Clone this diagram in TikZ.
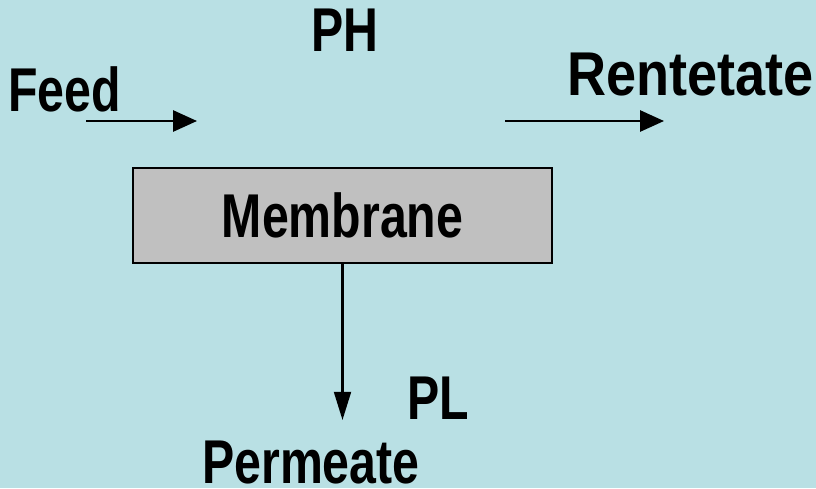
\documentclass[tikz,border=0pt]{standalone}
\usepackage{fontspec}
\setmainfont[FakeStretch=0.78]{Liberation Sans}
\usepackage{xcolor}
\definecolor{mbback}{RGB}{185,224,228}
\definecolor{mbgray}{RGB}{192,192,192}
\usetikzlibrary{arrows.meta, positioning}

\begin{document}
\begin{tikzpicture}[x=0.025cm, y=-0.025cm,
    lbl/.style={font=\fontsize{44}{50}\selectfont\bfseries, inner sep=0pt, anchor=base west},
    flow/.style={line width=1.6pt, -{Triangle[length=17pt, width=15pt]}}]
  % Background
  \fill[mbback] (0,0) rectangle (816,488);
  \useasboundingbox (0,0) rectangle (816,488);

  % Membrane box
  \node[draw=black, fill=mbgray, line width=1.4pt, minimum width=10.475cm,
        minimum height=2.375cm, inner sep=0pt,
        font=\fontsize{44}{50}\selectfont\bfseries] (mem) at (342.5,215.5) {Membrane};

  % Labels
  \node[lbl] (feed) at (8,111) {Feed};
  \node[lbl] (ph) at (311,51) {PH};
  \node[lbl] (ret) at (567,95) {\scalebox{1.12}[1]{Rentetate}};
  \node[lbl] (pl) at (407,419) {PL};
  \node[lbl] (perm) at (202,483) {Permeate};

  % Feed and retentate arrows
  \coordinate (feedin) at (86,121);
  \coordinate (feedout) at (197,121);
  \coordinate (retin) at (505,121);
  \coordinate (retout) at (664,121);
  \draw[flow] (feedin) -- (feedout);
  \draw[flow] (retin) -- (retout);

  % Permeate arrow
  \coordinate (permtip) at (mem.south |- 0,420);
  \draw[flow, -{Triangle[length=20pt, width=12pt]}] (mem.south) -- (permtip);
\end{tikzpicture}
\end{document}
